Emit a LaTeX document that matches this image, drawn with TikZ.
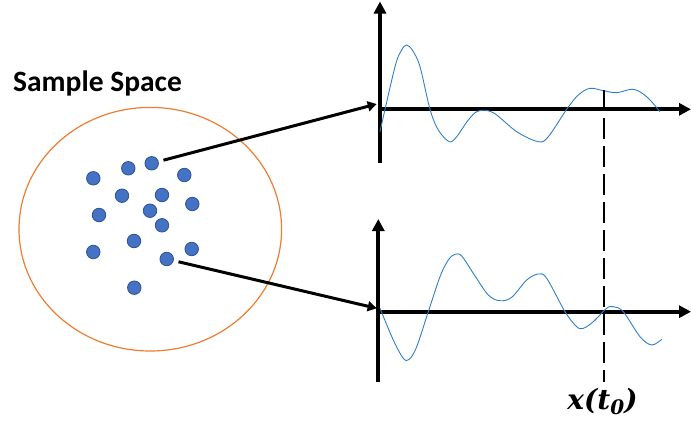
\documentclass[tikz,border=0pt]{standalone}
\usepackage{amsmath}
\usepackage{fontspec}
\newfontfamily\labelfont{Carlito}
\newfontfamily\mathlabel{DejaVu Serif}
\usetikzlibrary{arrows.meta,shapes.geometric}

\definecolor{dotblue}{RGB}{68,114,196}
\definecolor{dotedge}{RGB}{47,82,143}
\definecolor{spaceorange}{RGB}{237,125,49}
\definecolor{wave}{RGB}{46,128,200}

\begin{document}
\begin{tikzpicture}[
  x=1pt, y=-1pt,
  pt/.style={circle, fill=dotblue, draw=dotedge, line width=0.8pt, minimum size=13.5pt, inner sep=0pt},
  space/.style={ellipse, draw=spaceorange, line width=1.2pt, minimum width=262.6pt, minimum height=243.6pt, inner sep=0pt},
  axis/.style={line width=4pt, -{Triangle[length=12pt,width=12pt]}},
  conn/.style={line width=3pt, shorten <=5pt, -{Triangle[length=9pt,width=10pt]}},
  signal/.style={wave, line width=0.9pt},
  guide/.style={line width=2.3pt, dash pattern=on 21pt off 7pt}]
\useasboundingbox (0,0) rectangle (691,423);
% sample space and its outcomes
\node[space] (space) at (150.3,229.2) {};
\node[anchor=base west, inner sep=0pt, font=\labelfont\bfseries\fontsize{29.5}{34}\selectfont] (title) at (13,91) {Sample Space};
\node[pt] (d1) at (93.3,178.3) {};
\node[pt] (d2) at (128.3,168.3) {};
\node[pt] (d3) at (151.7,163.3) {};
\node[pt] (d4) at (184.3,175) {};
\node[pt] (d5) at (122,195.7) {};
\node[pt] (d6) at (162,195) {};
\node[pt] (d7) at (192.3,204) {};
\node[pt] (d8) at (99,215) {};
\node[pt] (d9) at (150,210.7) {};
\node[pt] (d10) at (162,225.3) {};
\node[pt] (d11) at (134,241) {};
\node[pt] (d12) at (93.3,252) {};
\node[pt] (d13) at (191.7,249) {};
\node[pt] (d14) at (166.7,259) {};
\node[pt] (d15) at (134.3,287.7) {};
% axes
\coordinate (o1) at (380,109.3);
\coordinate (o2) at (378.3,311.7);
\coordinate (top1) at (380,1.5);
\coordinate (bot1) at (380,163.3);
\coordinate (end1) at (691,109.3);
\coordinate (top2) at (378.3,219);
\coordinate (bot2) at (378.3,381.7);
\coordinate (end2) at (691,311.7);
\draw[axis] (bot1) -- (top1);
\draw[axis] (o1) -- (end1);
\draw[axis] (bot2) -- (top2);
\draw[axis] (o2) -- (end2);
% sample functions
\draw[signal] plot[smooth, tension=0.55] coordinates {(380,131.7) (395,66.7) (401.7,50) (406.7,45) (412.7,50.7) (420,66.7) (430,109.3) (438.3,130) (449.3,141.7) (456.7,136.7) (468.3,120) (478.3,111) (493.3,112.7) (516.7,131.7) (538.3,141.7) (548.3,136.7) (566.7,109.3) (578.3,95) (590,88.3) (603.3,90.7) (616.7,92.7) (633.3,89.3) (646.7,96.7) (660,111.7)};
\draw[signal] plot[smooth, tension=0.55] coordinates {(380,308.3) (393.3,340) (403.3,358.3) (409.3,359.3) (416.7,346.7) (428.3,311.7) (440,276.7) (448.3,260) (455,254.3) (461.7,256) (473.3,273.3) (488.3,295) (500,300.7) (511.7,297.3) (526.7,280) (538.3,274) (546.7,278.3) (565,311.7) (576.7,326.7) (583.3,328.3) (593.3,321.7) (606.7,308.3) (613.3,306.7) (623.3,311.7) (640,336.7) (651.7,345) (661.7,339.3)};
% mapping of two outcomes
\coordinate (in1) at (376.7,104);
\coordinate (in2) at (376.7,308.3);
\draw[conn] (d3) -- (in1);
\draw[conn] (d14) -- (in2);
% time instant
\coordinate (t0top) at (604.3,90);
\coordinate (t0bot) at (604.3,382);
\draw[guide] (t0top) -- (t0bot);
\node[anchor=base, inner sep=0pt, font=\mathlabel\bfseries\fontsize{28}{34}\selectfont] (xt0) at (602.5,409) {\itshape x(t\raisebox{-5pt}{\fontsize{20}{20}\selectfont 0})};
\end{tikzpicture}
\end{document}
